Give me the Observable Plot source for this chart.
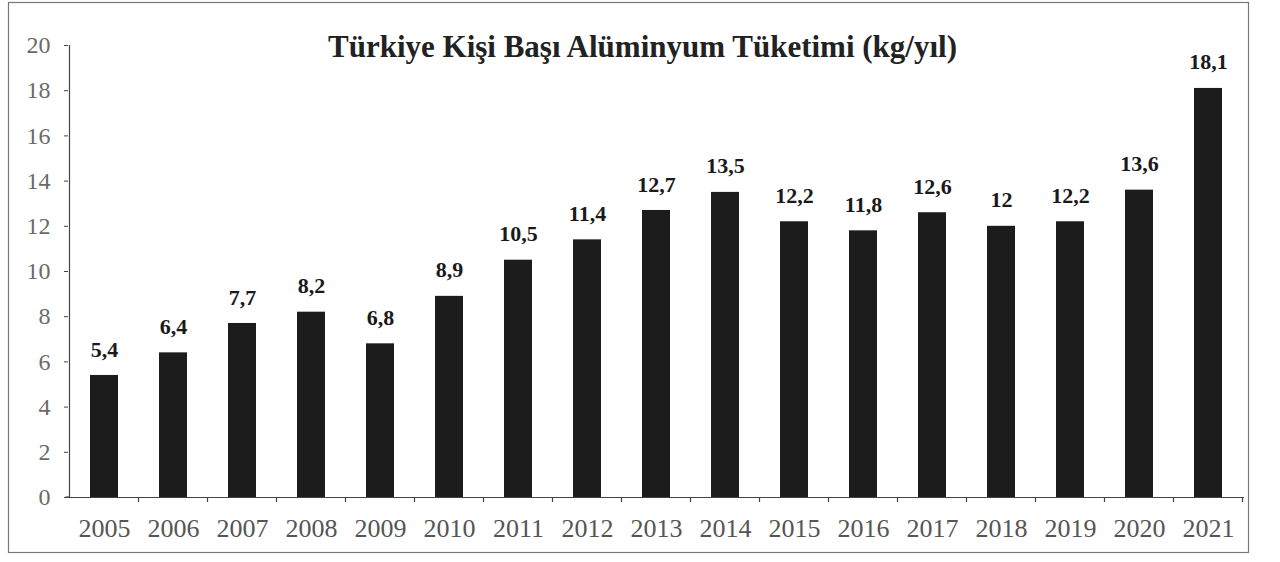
<!DOCTYPE html>
<html>
<head>
<meta charset="utf-8">
<script src="https://cdn.jsdelivr.net/npm/d3@7"></script>
<script src="https://cdn.jsdelivr.net/npm/@observablehq/plot@0.6"></script>
<style>
  html, body { margin: 0; padding: 0; background: #fff; }
  #chart svg { display: block; }
</style>
</head>
<body>
<div id="chart"></div>
<script>
const years = ["2005","2006","2007","2008","2009","2010","2011","2012","2013","2014","2015","2016","2017","2018","2019","2020","2021"];
const values = [5.4, 6.4, 7.7, 8.2, 6.8, 8.9, 10.5, 11.4, 12.7, 13.5, 12.2, 11.8, 12.6, 12, 12.2, 13.6, 18.1];
const yTicks = [0, 2, 4, 6, 8, 10, 12, 14, 16, 18, 20];
const title = "Türkiye Kişi Başı Alüminyum Tüketimi (kg/yıl)";

const data = years.map((y, i) => ({year: y, value: values[i], label: String(values[i]).replace(".", ",")}));

const serif = "'Liberation Serif', 'Times New Roman', serif";
const W = 1280, H = 562;
const mL = 68, mR = 36, mT = 45, mB = 65;

const plot = Plot.plot({
  width: W,
  height: H,
  marginLeft: mL,
  marginRight: mR,
  marginTop: mT,
  marginBottom: mB,
  style: {fontFamily: serif, background: "#fff", overflow: "visible"},
  x: {domain: years, paddingInner: 0.6, paddingOuter: 0.3, label: null},
  y: {domain: [0, 20], label: null},
  marks: [
    Plot.frame({stroke: "#777", strokeWidth: 1.2, insetLeft: -60, insetRight: -4, insetTop: -43, insetBottom: -55}),
    Plot.barY(data, {x: "year", y: "value", fill: "#1c1c1c"}),
    Plot.text(data, {x: "year", y: "value", text: "label", dy: -26, lineAnchor: "middle", fontSize: 22, fontWeight: "bold", fill: "#1a1a1a"}),
    Plot.axisY({ticks: yTicks, tickSize: 4, tickPadding: 14, fontSize: 24, fill: "#6a6a6a", stroke: "#444"}),
    Plot.axisX({tickSize: 0, tickPadding: 21, fontSize: 26, fill: "#555"}),
    Plot.ruleY([0], {stroke: "#444", strokeWidth: 1.2}),
    Plot.text([title], {frameAnchor: "top", dx: -14, dy: 2, lineAnchor: "middle", fontSize: 31, fontWeight: "bold", fill: "#222"})
  ]
});

// y-axis line and x-axis boundary ticks, placed through Plot's own scales
const xs = plot.scale("x");
const ys = plot.scale("y");
const svg = d3.select(plot.tagName === "svg" ? plot : plot.querySelector("svg"));
const step = xs.step, bw = xs.bandwidth;
const y0 = ys.apply(0), y20 = ys.apply(20);
const g = svg.append("g").attr("stroke", "#444").attr("stroke-width", 1.2);
const left = xs.apply(years[0]) + bw / 2 - step / 2;
g.append("line").attr("x1", left).attr("x2", left).attr("y1", y20).attr("y2", y0);
g.append("line").attr("x1", left - 4).attr("x2", left).attr("y1", y0).attr("y2", y0);
years.forEach((yr, i) => {
  const b = xs.apply(yr) + bw / 2 + step / 2;
  g.append("line").attr("x1", b).attr("x2", b).attr("y1", y0).attr("y2", y0 + 5);
});
document.getElementById("chart").appendChild(plot);
</script>
</body>
</html>
